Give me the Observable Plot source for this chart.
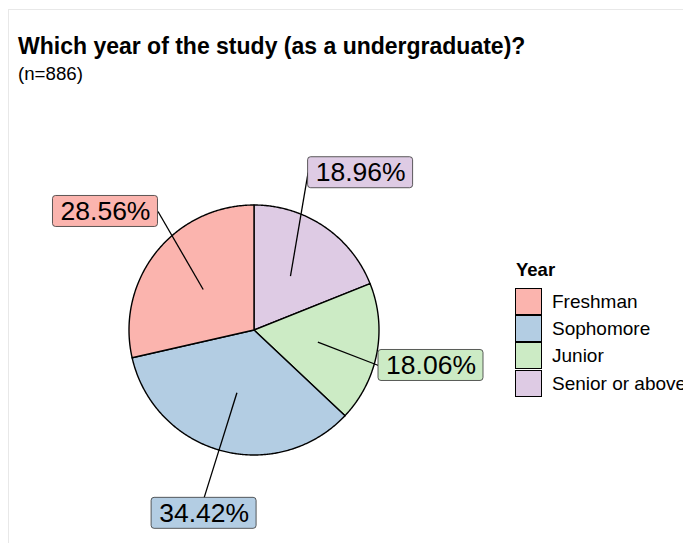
<!DOCTYPE html>
<html><head><meta charset="utf-8">
<script src="https://cdn.jsdelivr.net/npm/d3@7"></script>
<script src="https://cdn.jsdelivr.net/npm/@observablehq/plot@0.6"></script>
<style>
html,body{margin:0;padding:0;background:#fff}
body{overflow:hidden;width:683px;height:543px;position:relative;font-family:"Liberation Sans",Arial,sans-serif;color:#000}
#frame{position:absolute;left:8px;top:9px;width:800px;height:700px;border-left:1px solid #e8e8e8;border-top:1px solid #e8e8e8}
#title{position:absolute;left:18px;top:31.5px;font-size:23px;line-height:28px;font-weight:bold;white-space:nowrap}
#subtitle{position:absolute;left:18px;top:63.2px;font-size:18.7px;line-height:22px;white-space:nowrap}
#chart{position:absolute;left:0;top:85px}
#legend{position:absolute;left:515px;top:259.1px;white-space:nowrap}
#legend .lt{font-size:18.5px;line-height:22px;font-weight:bold;margin-left:1px;margin-bottom:6.9px}
#legend .row{display:flex;align-items:center;height:27.2px}
#legend .key{width:25px;height:25px;border:1px solid #000;box-sizing:content-box;margin-right:10px;flex:none}
#legend .lab{font-size:19px;line-height:27.2px}
</style></head><body>
<div id="frame"></div>
<div id="title">Which year of the study (as a undergraduate)?</div>
<div id="subtitle">(n=886)</div>
<div id="chart"></div>
<div id="legend"></div>
<script>
// ---- data ----
const categories = ["Freshman", "Sophomore", "Junior", "Senior or above"];
const percents = [28.56, 34.42, 18.06, 18.96];
const colors = ["#FBB4AE", "#B3CDE3", "#CCEBC5", "#DECBE4"];
const pieOrder = ["Senior or above", "Junior", "Sophomore", "Freshman"]; // clockwise from 12 o'clock
const legendTitle = "Year";

// ---- layout ----
const W = 683, H = 458;
const cx = 253.5, cy = 244.5, rPx = 125;
const labelR = 1.52, innerR = 0.52;
const halfW = 52.5 / rPx, halfH = 15.5 / rPx;
const xMax = (483 - cx) / rPx;

const byCat = new Map(categories.map((c, i) => [c, {cat: c, value: percents[i]}]));
const ordered = pieOrder.map(c => byCat.get(c));
const arcs = d3.pie().sort(null).value(d => d.value)(ordered);

const poly = [];
for (const a of arcs) {
  const cat = a.data.cat;
  poly.push({cat, x: 0, y: 0});
  const n = Math.max(2, Math.ceil((a.endAngle - a.startAngle) / (Math.PI / 360)));
  for (let k = 0; k <= n; k++) {
    const t = a.startAngle + (a.endAngle - a.startAngle) * k / n;
    poly.push({cat, x: Math.sin(t), y: Math.cos(t)});
  }
  poly.push({cat, x: 0, y: 0});
}

const labels = arcs.map(a => {
  const m = (a.startAngle + a.endAngle) / 2;
  let lx = labelR * Math.sin(m), ly = labelR * Math.cos(m);
  lx = Math.min(lx, xMax - halfW);
  const px = innerR * Math.sin(m), py = innerR * Math.cos(m);
  const cands = [[lx - halfW, ly], [lx + halfW, ly], [lx, ly + halfH], [lx, ly - halfH]];
  let best = cands[0], bd = Infinity;
  for (const c of cands) { const d = Math.hypot(c[0] - px, c[1] - py); if (d < bd) { bd = d; best = c; } }
  return {cat: a.data.cat, value: a.data.value, lx, ly, px, py, ax: best[0], ay: best[1]};
});

const plot = Plot.plot({
  width: W, height: H,
  style: {background: "transparent", overflow: "visible", fontFamily: "'Liberation Sans', Arial, sans-serif"},
  x: {axis: null, domain: [-1, 1], range: [cx - rPx, cx + rPx]},
  y: {axis: null, domain: [-1, 1], range: [cy + rPx, cy - rPx]},
  color: {domain: categories, range: colors},
  marks: [
    Plot.line(poly, {x: "x", y: "y", z: "cat", fill: "cat", stroke: "#000", strokeWidth: 1.4, strokeLinejoin: "round"}),
    Plot.link(labels, {x1: "px", y1: "py", x2: "ax", y2: "ay", stroke: "#000", strokeWidth: 1.3}),
    Plot.rect(labels, {x1: d => d.lx - halfW, x2: d => d.lx + halfW, y1: d => d.ly - halfH, y2: d => d.ly + halfH,
      fill: "cat", stroke: "#333", strokeWidth: 0.8, rx: 3}),
    Plot.text(labels, {x: "lx", y: "ly", text: d => d.value.toFixed(2) + "%", fontSize: 26.5, fill: "#000"})
  ]
});
document.getElementById("chart").appendChild(plot);

const leg = document.getElementById("legend");
const lt = document.createElement("div"); lt.className = "lt"; lt.textContent = legendTitle; leg.appendChild(lt);
categories.forEach((c, i) => {
  const row = document.createElement("div"); row.className = "row";
  const k = document.createElement("div"); k.className = "key"; k.style.background = colors[i];
  const l = document.createElement("span"); l.className = "lab"; l.textContent = c;
  row.appendChild(k); row.appendChild(l); leg.appendChild(row);
});
</script>
</body></html>
